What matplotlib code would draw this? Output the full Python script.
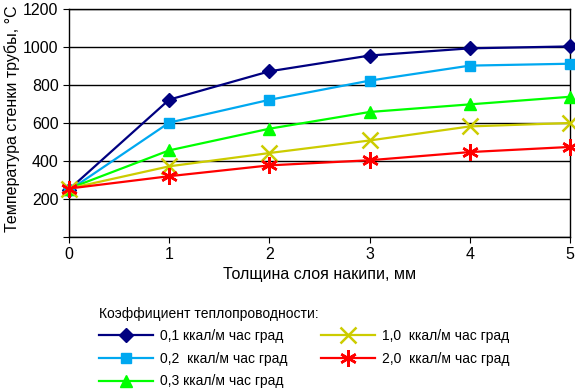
import matplotlib

matplotlib.use("Agg")

import matplotlib.pyplot as plt

plt.rcParams["font.family"] = ["Liberation Sans", "DejaVu Sans"]

thickness = [0, 1, 2, 3, 4, 5]
temp_01 = [250, 723, 872, 955, 993, 1003]
temp_02 = [245, 602, 722, 823, 902, 912]
temp_03 = [255, 456, 570, 658, 698, 738]
temp_10 = [255, 372, 442, 508, 582, 600]
temp_20 = [255, 320, 377, 404, 447, 474]

labels = [
    "0,1 ккал/м час град",
    "0,2  ккал/м час град",
    "0,3 ккал/м час град",
    "1,0  ккал/м час град",
    "2,0  ккал/м час град",
]
colors = ["#000080", "#00A8F0", "#00FF00", "#CCCC00", "#FF0000"]
markers = ["D", "s", "^", "x", (6, 2, 0)]
sizes = [7, 7, 9, 11, 12]

fig = plt.figure(figsize=(5.75, 3.92), dpi=100)
ax = fig.add_axes([69 / 575, 1 - 237 / 392, 501 / 575, 228 / 392])

series = [temp_01, temp_02, temp_03, temp_10, temp_20]
for values, label, color, marker, size in zip(series, labels, colors, markers, sizes):
    ax.plot(
        thickness,
        values,
        color=color,
        linewidth=1.6,
        marker=marker,
        markersize=size,
        markeredgewidth=1.8 if marker in ("x", (6, 2, 0)) else 1,
        label=label,
        clip_on=False,
        zorder=3,
    )

ax.set_xlim(0, 5)
ax.set_ylim(0, 1200)
ax.set_yticks(range(0, 1201, 200))
ax.set_yticklabels([""] + [str(v) for v in range(200, 1201, 200)])
ax.set_xticks(thickness)
ax.yaxis.grid(True, color="black", linewidth=1)
ax.tick_params(labelsize=11.5, direction="out", length=4, color="black")
for spine in ax.spines.values():
    spine.set_linewidth(1)

ax.set_xlabel("Толщина слоя накипи, мм", fontsize=11.5, labelpad=3)
ax.set_ylabel("Температура стенки трубы, °С", fontsize=11.5)
ax.yaxis.set_label_coords(-0.098, 0.52)

leg = fig.legend(
    loc="upper left",
    bbox_to_anchor=(93 / 575, 1 - 301 / 392),
    ncol=2,
    frameon=False,
    title="Коэффициент теплопроводности:",
    title_fontsize=10,
    fontsize=10,
    alignment="left",
    handlelength=3.9,
    handletextpad=0.5,
    columnspacing=2.4,
    labelspacing=0.62,
    borderaxespad=0,
)

plt.savefig("out.png", dpi=100)
